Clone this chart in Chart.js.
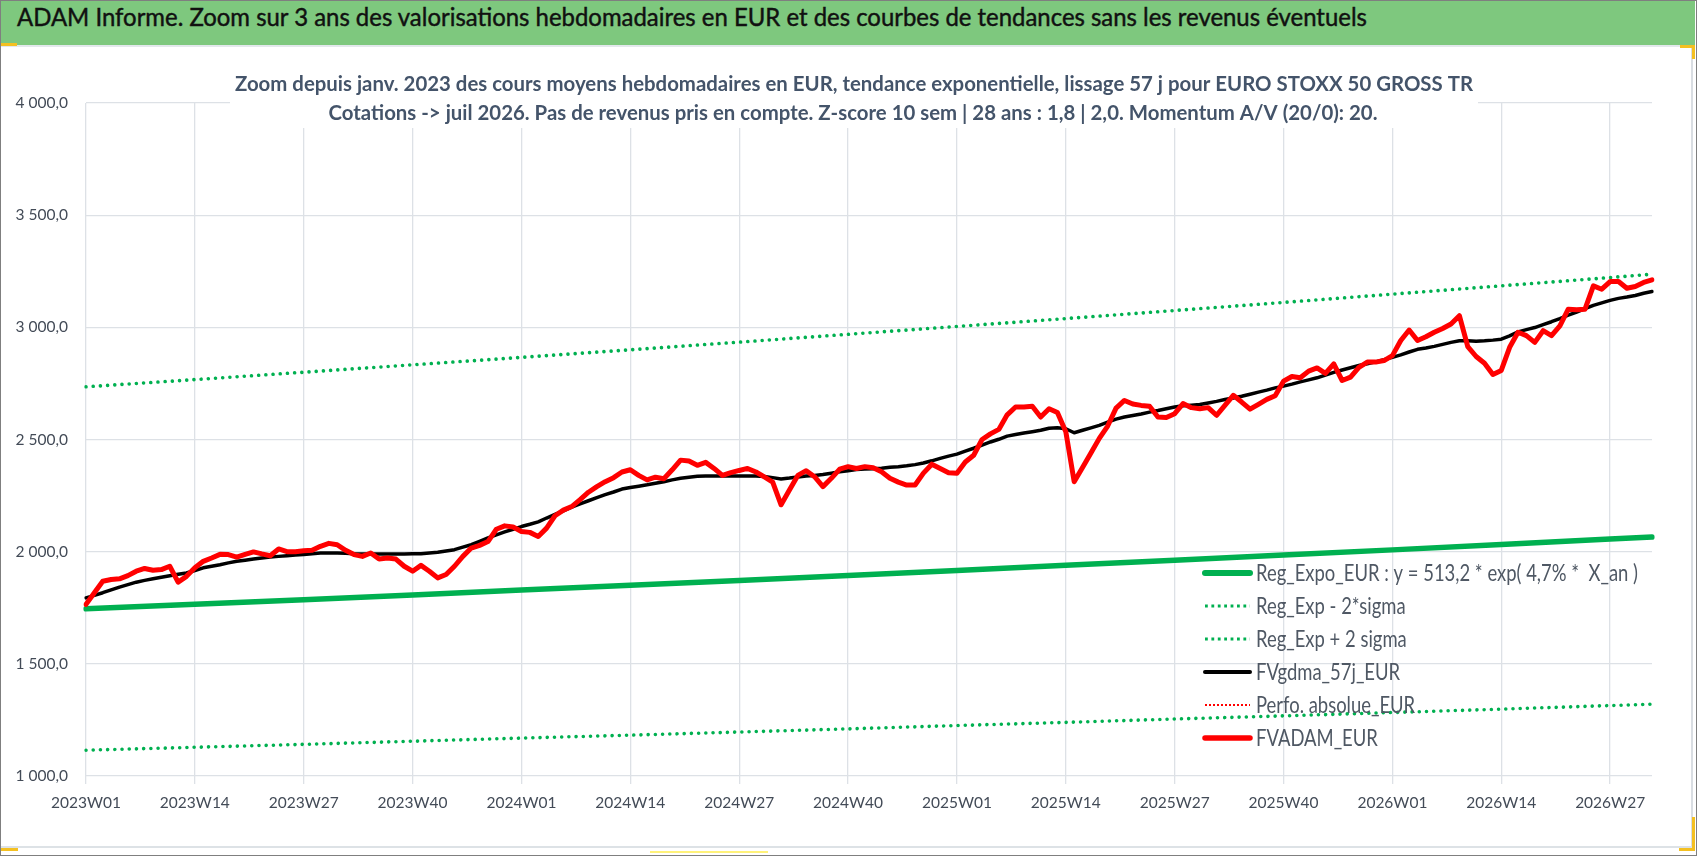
<!DOCTYPE html>
<html>
<head>
<meta charset="utf-8">
<script src="https://cdn.jsdelivr.net/npm/chart.js@4.4.1/dist/chart.umd.min.js"></script>
<style>
html, body { margin: 0; padding: 0; background: #fff; }
#page { position: relative; width: 1698px; height: 856px; overflow: hidden; }
#chart { position: absolute; left: 0; top: 0; }
.deco { position: absolute; }
#banner { left: 1px; top: 1px; width: 1694px; height: 44px; background: #7ec87e; }
#banner span { position: absolute; left: 16px; top: 0; line-height: 44px; color: #111; white-space: nowrap; transform-origin: 0 50%; -webkit-text-stroke: 0.45px #111; }
</style>
</head>
<body>
<div id="page">
  <canvas id="chart" width="1698" height="856"></canvas>
  <div class="deco" id="banner"><span id="bannerText"></span></div>
  <div class="deco" style="left:0;top:45px;width:1692px;height:2px;background:#e3e8ec"></div>
  <div class="deco" style="left:1691px;top:47px;width:2px;height:800px;background:#d9dde2"></div>
  <div class="deco" style="left:0;top:846px;width:1693px;height:2px;background:#dde2e6"></div>
  <div class="deco" style="left:0;top:0;width:1697px;height:856px;box-sizing:border-box;border:1.5px solid #7f7f7f"></div>
  <div class="deco" style="left:1px;top:43px;width:16px;height:3px;background:#f4c021"></div>
  <div class="deco" style="left:1680px;top:45px;width:14px;height:3px;background:#f4c021"></div>
  <div class="deco" style="left:1692px;top:45px;width:3px;height:14px;background:#f4c021"></div>
  <div class="deco" style="left:1692px;top:817px;width:3px;height:34px;background:#f4c021"></div>
  <div class="deco" style="left:1679px;top:848px;width:16px;height:3px;background:#f4c021"></div>
  <div class="deco" style="left:1px;top:848px;width:17px;height:3px;background:#f4c021"></div>
  <div class="deco" style="left:650px;top:851px;width:118px;height:2px;background:#fff27a"></div>
</div>
<script>
const bannerTitle = "ADAM Informe. Zoom sur 3 ans des valorisations hebdomadaires en EUR et des courbes de tendances sans les revenus éventuels";
const subTitle = [
    "Zoom depuis janv. 2023 des cours moyens hebdomadaires en EUR, tendance exponentielle, lissage 57 j pour EURO STOXX 50 GROSS TR",
    "Cotations -> juil 2026. Pas de revenus pris en compte. Z-score 10 sem | 28 ans : 1,8 | 2,0. Momentum A/V (20/0): 20."
];

// weekly categories 2023W01 .. 2026W32
const years = [2023, 2024, 2025, 2026];
const weeksPerYear = [52, 52, 52, 32];
const weekLabels = [];
years.forEach((y, k) => {
    for (let w = 1; w <= weeksPerYear[k]; w++) {
        weekLabels.push(y + "W" + (w < 10 ? "0" + w : w));
    }
});

// FVADAM_EUR, one value per week
const fvAdam = [
    1765, 1817, 1868, 1876, 1879, 1893, 1913, 1925, 1917, 1920, 1935, 1864, 1890,
    1928, 1957, 1972, 1988, 1987, 1976, 1988, 1999, 1990, 1982, 2012, 2000, 2000,
    2004, 2006, 2024, 2037, 2031, 2006, 1987, 1979, 1994, 1967, 1972, 1967, 1935,
    1913, 1939, 1913, 1883, 1898, 1935, 1979, 2016, 2028, 2045, 2100, 2115, 2110,
    2090, 2086, 2068, 2105, 2160, 2185, 2201, 2232, 2265, 2290, 2312, 2330, 2355,
    2365, 2340, 2320, 2332, 2325, 2365, 2408, 2404, 2385, 2398, 2371, 2340, 2352,
    2362, 2371, 2355, 2333, 2310, 2209, 2275, 2340, 2361, 2334, 2290, 2327, 2368,
    2379, 2371, 2379, 2374, 2356, 2327, 2310, 2297, 2297, 2350, 2390, 2371, 2352,
    2350, 2400, 2430, 2500, 2525, 2545, 2610, 2645, 2645, 2648, 2600, 2637, 2620,
    2535, 2312, 2375, 2440, 2505, 2560, 2640, 2674, 2658, 2652, 2648, 2600, 2598,
    2615, 2660, 2642, 2637, 2642, 2608, 2652, 2697, 2667, 2635, 2657, 2679, 2695,
    2760, 2781, 2775, 2805, 2819, 2795, 2837, 2763, 2778, 2822, 2845, 2845, 2852,
    2874, 2941, 2988, 2941, 2958, 2978, 2995, 3015, 3052, 2914, 2870, 2840, 2790,
    2808, 2911, 2978, 2963, 2933, 2985, 2963, 3007, 3081, 3078, 3081, 3185, 3170,
    3204, 3204, 3174, 3182, 3200, 3212
];

// FVgdma_57j_EUR, one value per week
const fvGdma = [
    1794, 1805, 1817, 1830, 1842, 1853, 1864, 1872, 1879, 1886, 1893, 1899, 1905,
    1916, 1928, 1935, 1942, 1950, 1957, 1962, 1967, 1972, 1976, 1979, 1982, 1985,
    1987, 1991, 1994, 1994, 1994, 1993, 1991, 1990, 1990, 1990, 1990, 1990, 1990,
    1991, 1991, 1994, 1997, 2003, 2009, 2020, 2031, 2046, 2061, 2075, 2088, 2100,
    2112, 2122, 2133, 2150, 2166, 2182, 2198, 2213, 2227, 2241, 2254, 2266, 2279,
    2286, 2292, 2298, 2305, 2312, 2320, 2327, 2332, 2336, 2337, 2337, 2337, 2337,
    2337, 2337, 2337, 2335, 2330, 2324, 2328, 2333, 2337, 2340, 2344, 2350, 2356,
    2361, 2366, 2369, 2370, 2372, 2376, 2379, 2383, 2388, 2395, 2405, 2416, 2426,
    2435, 2448, 2461, 2475, 2489, 2501, 2515, 2522, 2529, 2535, 2541, 2550, 2552,
    2548, 2530, 2541, 2552, 2563, 2577, 2591, 2600, 2607, 2614, 2622, 2629, 2637,
    2645, 2650, 2653, 2656, 2663, 2670, 2678, 2685, 2693, 2702, 2711, 2720, 2730,
    2738, 2747, 2757, 2766, 2775, 2787, 2799, 2810, 2820, 2830, 2838, 2846, 2856,
    2866, 2877, 2890, 2902, 2908, 2915, 2924, 2933, 2940, 2940, 2938, 2940, 2943,
    2947, 2962, 2980, 2990, 2999, 3012, 3025, 3039, 3054, 3068, 3083, 3098, 3109,
    3120, 3129, 3135, 3142, 3152, 3160
];

// trend curves read at each quarterly tick and at the last week
const trendWeeks = ["2023W01", "2023W14", "2023W27", "2023W40", "2024W01", "2024W14", "2024W27", "2024W40",
    "2025W01", "2025W14", "2025W27", "2025W40", "2026W01", "2026W14", "2026W27", "2026W32"];
const regExpo = [1745, 1766, 1786, 1807, 1829, 1850, 1872, 1894, 1916, 1939, 1962, 1985, 2008, 2032, 2056, 2065];
const regMinus2 = [1115, 1128, 1141, 1155, 1169, 1182, 1196, 1210, 1225, 1239, 1254, 1268, 1283, 1298, 1314, 1320];
const regPlus2 = [2735, 2767, 2800, 2833, 2866, 2900, 2934, 2969, 3004, 3039, 3075, 3111, 3148, 3185, 3222, 3237];

const seriesNames = [
    "Reg_Expo_EUR : y = 513,2 * exp( 4,7% *  X_an )",
    "Reg_Exp - 2*sigma",
    "Reg_Exp + 2 sigma",
    "FVgdma_57j_EUR",
    "Perfo. absolue_EUR",
    "FVADAM_EUR"
];

const FONT = "Lato, 'Open Sans', sans-serif";
const gridColor = "#dde1e6";
const labelColor = "#434b57";

// horizontal squeeze so a taller font keeps the narrow width of the original
function squeeze(text, font, width) {
    const m = document.createElement("canvas").getContext("2d");
    m.font = font;
    return width / m.measureText(text).width;
}

const bannerFont = "normal 25px " + FONT;
const subFont = "bold 20px " + FONT;
const legendFont = "normal 23px " + FONT;
const subScale = squeeze(subTitle[0], subFont, 1238);
const legendScale = squeeze(seriesNames[0], legendFont, 382);

const bannerEl = document.getElementById("bannerText");
bannerEl.textContent = bannerTitle;
bannerEl.style.font = bannerFont;
bannerEl.style.transform = "scaleX(" + squeeze(bannerTitle, bannerFont, 1351).toFixed(4) + ")";

function trendPoints(values) {
    return values.map((v, i) => ({ x: trendWeeks[i], y: v }));
}

function formatFr(v) {
    const parts = v.toFixed(1).split(".");
    const int = parts[0].replace(/\B(?=(\d{3})+(?!\d))/g, " ");
    return int + "," + parts[1];
}

function squeezedText(c, text, x, y, k) {
    c.save();
    c.translate(x, y);
    c.scale(k, 1);
    c.fillText(text, 0, 0);
    c.restore();
}

const overlay = {
    id: "overlay",
    afterDraw(chart) {
        const c = chart.ctx;
        // subtitle box over the plot
        c.save();
        c.fillStyle = "#fff";
        c.fillRect(230, 62, 1248, 66);
        c.fillStyle = "#44546a";
        c.font = subFont;
        c.textAlign = "center";
        c.textBaseline = "middle";
        squeezedText(c, subTitle[0], 854, 85, subScale);
        squeezedText(c, subTitle[1], 853, 114, subScale);
        c.restore();

        // legend inside the plot, lower right
        c.save();
        c.font = legendFont;
        c.textBaseline = "middle";
        c.fillStyle = "#4f5864";
        chart.data.datasets.forEach((ds, i) => {
            const y = 573 + i * 33;
            c.save();
            c.strokeStyle = ds.borderColor;
            c.lineWidth = ds.legendWidth;
            c.setLineDash(ds.legendDash || []);
            c.lineCap = ds.legendDash ? "butt" : "round";
            c.beginPath();
            c.moveTo(1205, y);
            c.lineTo(1250, y);
            c.stroke();
            c.restore();
            squeezedText(c, ds.label, 1256, y + 1, legendScale);
        });
        c.restore();
    }
};

const showTick = (ctx) => ctx.tick && ctx.tick.value % 13 === 0;

new Chart(document.getElementById("chart"), {
    type: "line",
    data: {
        labels: weekLabels,
        datasets: [
            {
                label: seriesNames[0],
                data: trendPoints(regExpo),
                borderColor: "#00b050",
                borderWidth: 5.5,
                legendWidth: 6,
                order: 2,
            },
            {
                label: seriesNames[1],
                data: trendPoints(regMinus2),
                borderColor: "#00b050",
                borderWidth: 3.6,
                borderDash: [0.01, 7.2],
                borderCapStyle: "round",
                legendWidth: 2.8,
                legendDash: [2.8, 3.6],
                order: 3,
            },
            {
                label: seriesNames[2],
                data: trendPoints(regPlus2),
                borderColor: "#00b050",
                borderWidth: 3.6,
                borderDash: [0.01, 7.2],
                borderCapStyle: "round",
                legendWidth: 2.8,
                legendDash: [2.8, 3.6],
                order: 3,
            },
            {
                label: seriesNames[3],
                data: fvGdma,
                borderColor: "#000000",
                borderWidth: 3.5,
                legendWidth: 4,
                order: 1,
            },
            {
                label: seriesNames[4],
                data: [],
                borderColor: "#ff0000",
                borderWidth: 2,
                borderDash: [2, 2],
                legendWidth: 2,
                legendDash: [2, 2],
                order: 4,
            },
            {
                label: seriesNames[5],
                data: fvAdam,
                borderColor: "#ff0000",
                borderWidth: 5,
                legendWidth: 5.5,
                order: 0,
            },
        ],
    },
    options: {
        responsive: false,
        animation: false,
        layout: { padding: { left: 0, top: 103, right: 46, bottom: 20 } },
        elements: {
            point: { radius: 0 },
            line: { tension: 0, borderJoinStyle: "round", borderCapStyle: "round", fill: false },
        },
        plugins: {
            legend: { display: false },
            title: { display: false },
            tooltip: { enabled: false },
        },
        scales: {
            x: {
                type: "category",
                offset: false,
                border: { display: false },
                grid: {
                    color: (ctx) => (showTick(ctx) ? gridColor : "rgba(0,0,0,0)"),
                    tickColor: (ctx) => (showTick(ctx) ? gridColor : "rgba(0,0,0,0)"),
                    lineWidth: 1.3,
                    drawTicks: true,
                    tickLength: 8,
                },
                ticks: {
                    autoSkip: false,
                    maxRotation: 0,
                    padding: 10,
                    color: labelColor,
                    font: { family: FONT, size: 15.5 },
                    callback: (value, index) => (index % 13 === 0 ? weekLabels[index] : null),
                },
                afterFit: (scale) => { scale.height = 60; },
            },
            y: {
                min: 1000,
                max: 4000,
                border: { display: false },
                grid: { color: gridColor, lineWidth: 1.3, drawTicks: false },
                ticks: {
                    stepSize: 500,
                    padding: 18,
                    color: labelColor,
                    font: { family: FONT, size: 15.5 },
                    callback: (v) => formatFr(v),
                },
                afterFit: (scale) => { scale.width = 86; },
            },
        },
    },
    plugins: [overlay],
});
</script>
</body>
</html>
